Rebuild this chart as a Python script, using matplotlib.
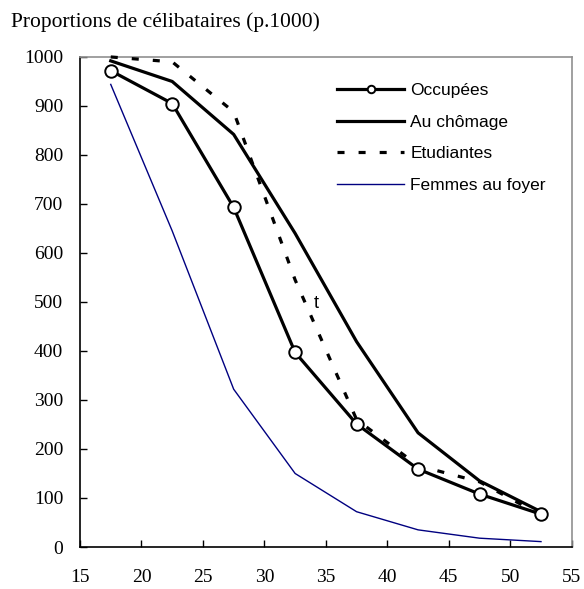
import matplotlib
matplotlib.use("Agg")
import matplotlib.pyplot as plt

ages = [17.5, 22.5, 27.5, 32.5, 37.5, 42.5, 47.5, 52.5]
occupees = [972, 905, 693, 397, 251, 159, 108, 67]
chomage = [992, 950, 842, 640, 419, 233, 135, 72]
etudiantes = [1000, 990, 888, 545, 260, 166, 133, 65]
foyer = [944, 645, 322, 150, 72, 35, 18, 11]
labels = ["Occupées", "Au chômage", "Etudiantes", "Femmes au foyer"]
x_ticks = [15, 20, 25, 30, 35, 40, 45, 50, 55]
y_ticks = list(range(0, 1001, 100))

fig = plt.figure(figsize=(5.84, 5.89), dpi=100)
ax = fig.add_axes([0.137, 0.0713, 0.842, 0.832])

ax.plot(ages, occupees, color="black", lw=2.3, marker="o", markersize=9,
        markerfacecolor="white", markeredgecolor="black", markeredgewidth=1.4,
        label=labels[0], zorder=5)
ax.plot(ages, chomage, color="black", lw=2.3, label=labels[1], zorder=4)
ax.plot(ages, etudiantes, color="black", lw=2.3, linestyle=(0, (2.2, 4.4)),
        label=labels[2], zorder=3, clip_on=False)
ax.plot(ages, foyer, color="#000080", lw=1.0, label=labels[3], zorder=2)

ax.text(34.25, 496, "t", fontsize=13, family="Liberation Sans",
        ha="center", va="center", zorder=6)

ax.set_xlim(15, 55)
ax.set_ylim(0, 1000)
ax.set_xticks(x_ticks)
ax.set_yticks(y_ticks)
for lab in ax.get_xticklabels() + ax.get_yticklabels():
    lab.set_family("Liberation Serif")
    lab.set_fontsize(14)
ax.tick_params(direction="in", length=5, width=1, color="black")
ax.tick_params(axis="x", pad=15.5)
ax.tick_params(axis="y", pad=12)

ax.spines["left"].set_color("black")
ax.spines["bottom"].set_color("black")
ax.spines["top"].set_color("#909090")
ax.spines["right"].set_color("#909090")
for s in ax.spines.values():
    s.set_linewidth(1.2)

leg = ax.legend(loc="upper left", bbox_to_anchor=(0.522, 0.947), frameon=False,
                prop={"family": "Liberation Sans", "size": 12.5},
                borderpad=0, borderaxespad=0, markerscale=0.6,
                handlelength=3.9, handletextpad=0.35, labelspacing=0.95)

fig.text(0.019, 0.962, "Proportions de célibataires (p.1000)",
         family="Liberation Serif", fontsize=15.5, ha="left", va="center")

fig.savefig("out.png", dpi=100)
